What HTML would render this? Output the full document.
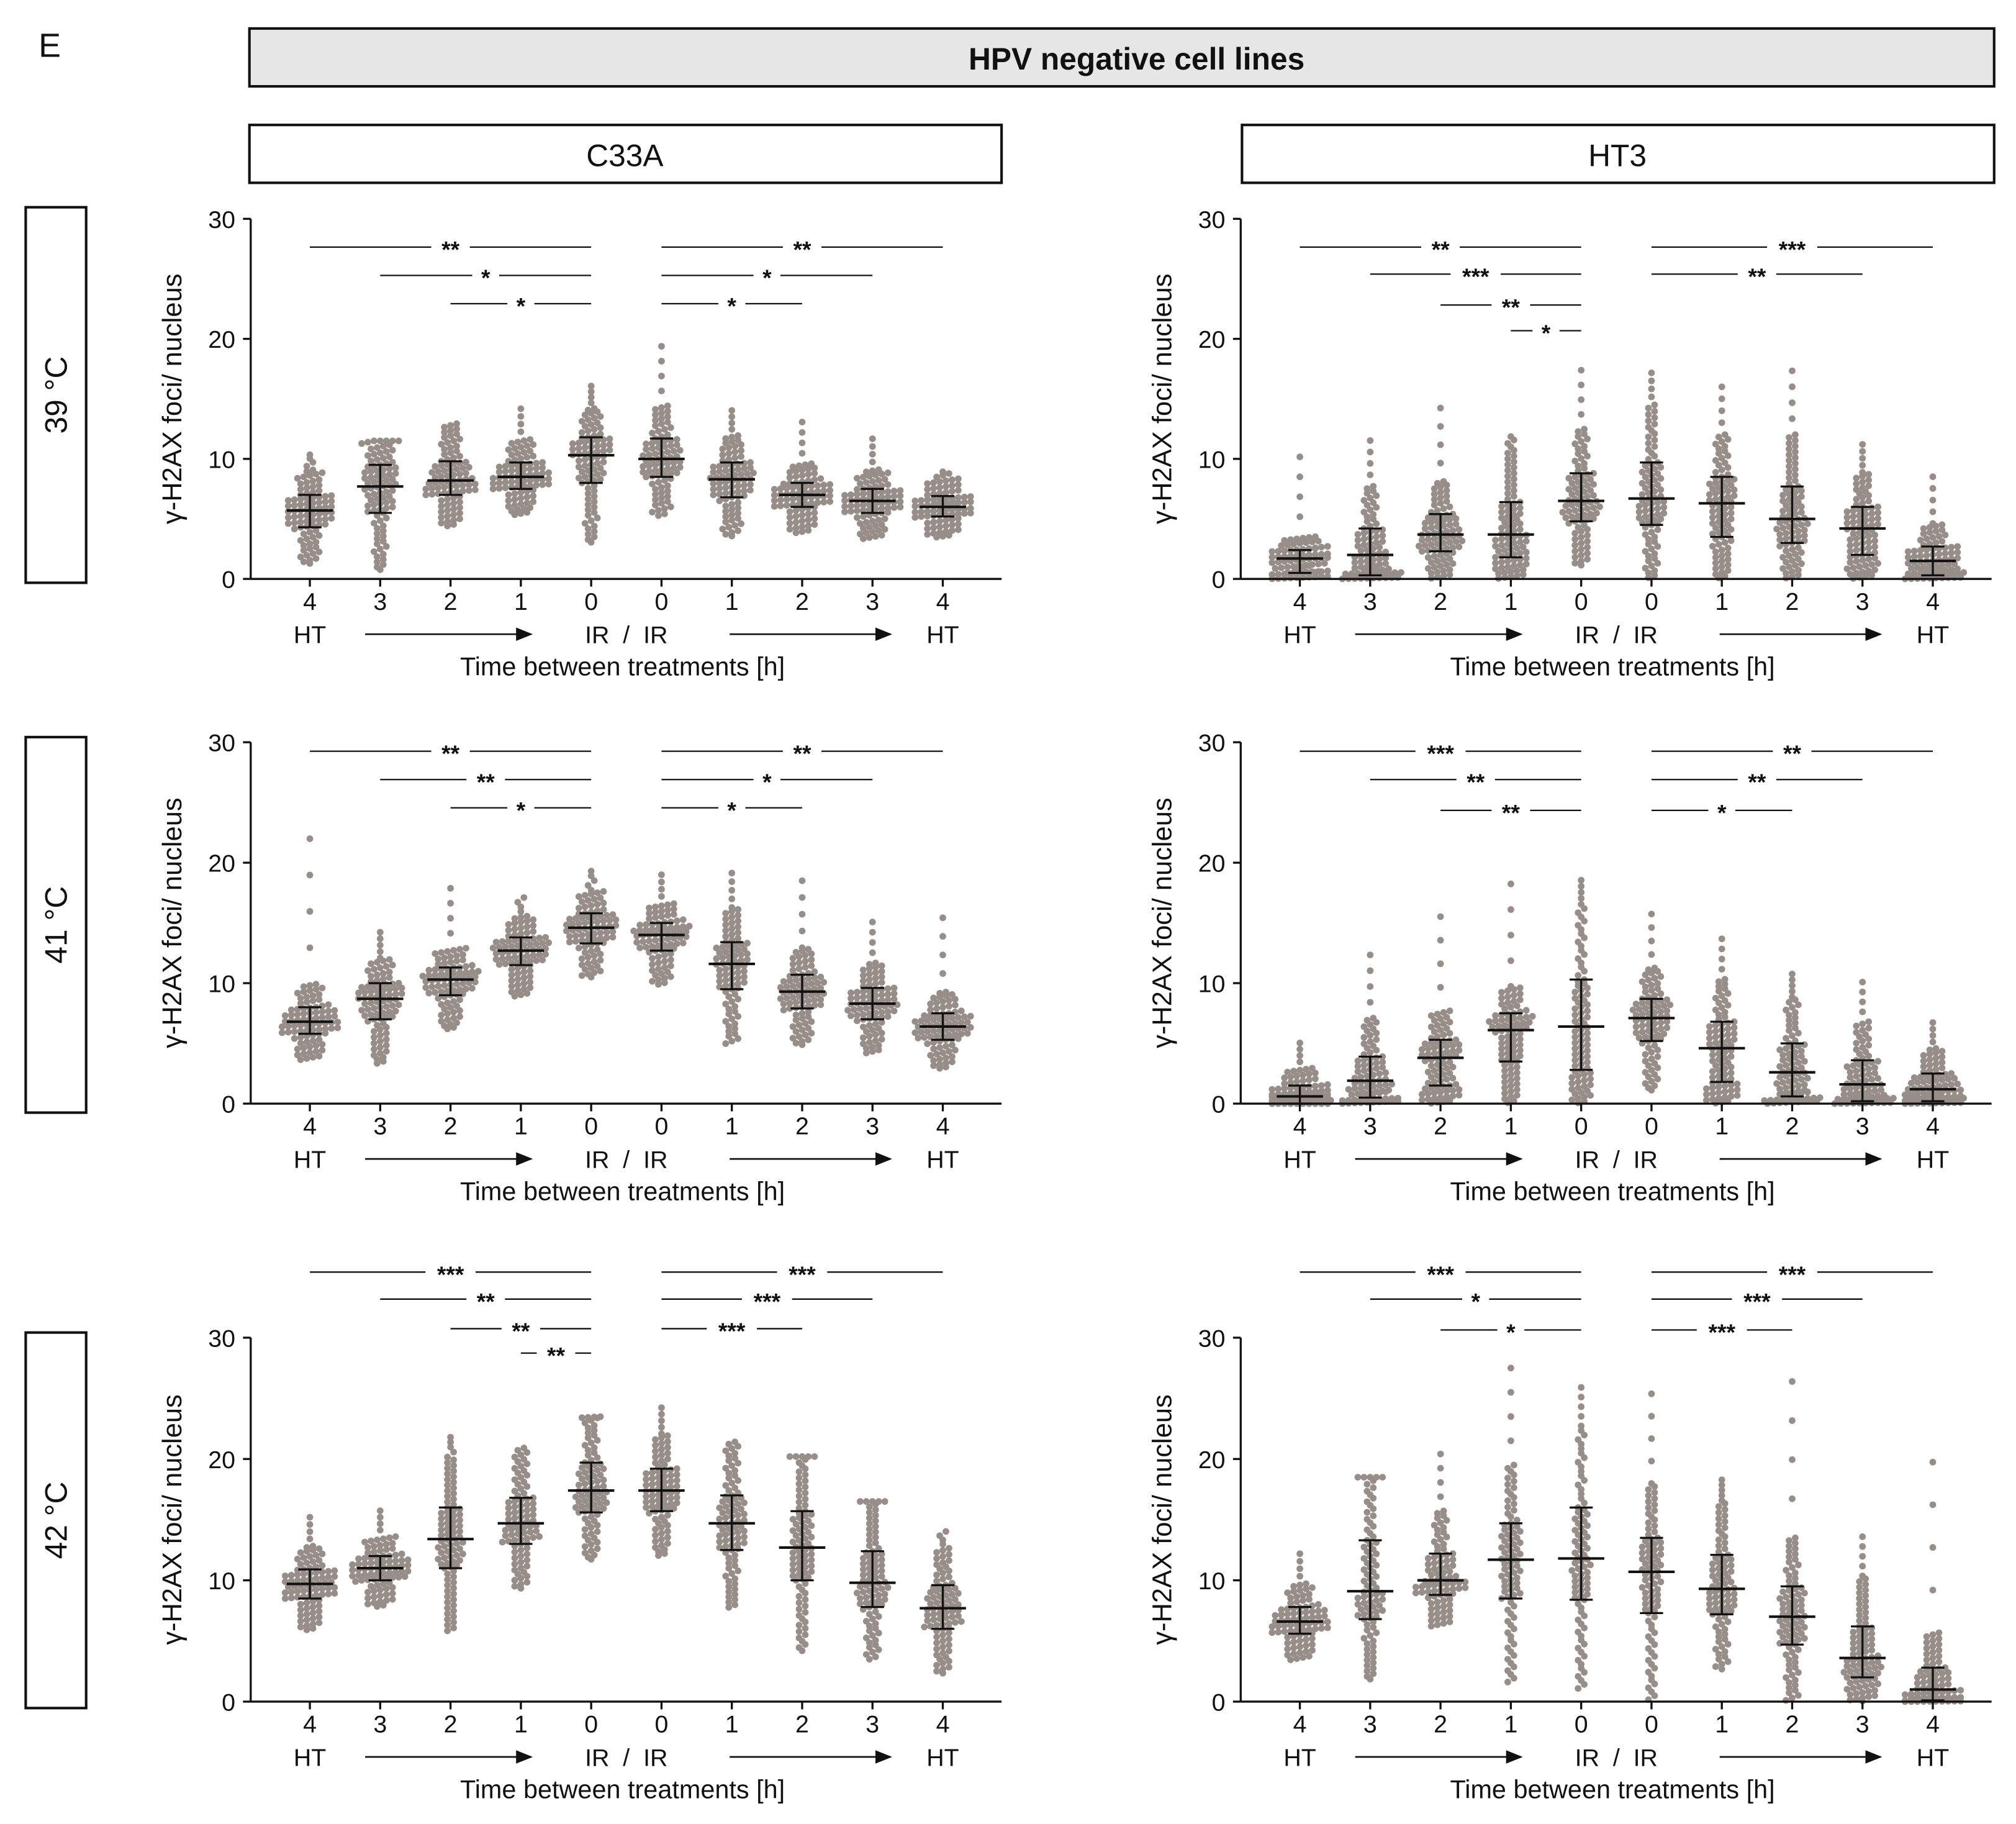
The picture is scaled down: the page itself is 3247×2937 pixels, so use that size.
<!DOCTYPE html>
<html><head><meta charset="utf-8"><style>
html,body{margin:0;padding:0;background:#fff}
svg{display:block}
text{font-family:"Liberation Sans",sans-serif;fill:#111}
</style></head><body>
<svg id="fig" width="3247" height="2937" viewBox="0 0 1568 1418" xmlns="http://www.w3.org/2000/svg">
<defs><marker id="ah" markerWidth="10" markerHeight="8" refX="9" refY="4" orient="auto"><path d="M0,0 L10,4 L0,8 z" fill="#111"/></marker></defs>
<text x="30" y="44" font-size="26">E</text>
<rect x="194" y="22" width="1357" height="45" fill="#e6e6e6" stroke="#111" stroke-width="2"/>
<text x="884" y="54" font-size="24" font-weight="bold" text-anchor="middle">HPV negative cell lines</text>
<rect x="194" y="97" width="585" height="45" fill="#fff" stroke="#111" stroke-width="2"/>
<text x="486" y="129" font-size="24" text-anchor="middle">C33A</text>
<rect x="966" y="97" width="585" height="45" fill="#fff" stroke="#111" stroke-width="2"/>
<text x="1258" y="129" font-size="24" text-anchor="middle">HT3</text>
<g id="rows"></g>
<g id="plots"></g>
</svg>
<script>
const NS="http://www.w3.org/2000/svg";
const svg=document.getElementById('plots');
const rowsG=document.getElementById('rows');
const categories=["4","3","2","1","0","0","1","2","3","4"];
const yTicks=[0,10,20,30];
const temps=["39 °C","41 °C","42 °C"];
const med_c33a_39=[5.7,7.7,8.2,8.5,10.3,10,8.3,7,6.5,6];
const lo_c33a_39=[4.3,5.5,7,7.5,8,8.5,6.8,6,5.5,5.2];
const hi_c33a_39=[7,9.5,9.8,9.7,11.8,11.7,9.7,8,7.5,6.9];
const max_c33a_39=[10.5,11.5,13,14.5,16.3,20,14.3,13.5,12,9];
const med_ht3_39=[1.7,2,3.7,3.7,6.5,6.7,6.3,5,4.2,1.5];
const lo_ht3_39=[0.5,0.3,2.3,1.8,4.8,4.5,3.5,3,2,0.3];
const hi_ht3_39=[2.4,4.2,5.4,6.4,8.8,9.7,8.5,7.7,6,2.7];
const max_ht3_39=[11,12,15,12,18,17.5,16.5,18,11.5,9];
const med_c33a_41=[6.8,8.7,10.3,12.7,14.6,14,11.6,9.3,8.3,6.4];
const lo_c33a_41=[5.8,7,9,11.5,13.3,12.7,9.5,7.9,7,5.3];
const hi_c33a_41=[8,10,11.3,13.8,15.8,15,13.4,10.7,9.6,7.5];
const max_c33a_41=[23.5,14.5,18.5,17.3,19.5,19.3,19.5,19.2,15.5,16.2];
const med_ht3_41=[0.6,1.9,3.8,6.1,6.4,7.1,4.6,2.6,1.6,1.2];
const lo_ht3_41=[0,0.5,1.5,3.5,2.8,5.2,1.8,0.6,0.2,0.2];
const hi_ht3_41=[1.5,3.9,5.3,7.5,10.3,8.7,6.8,5,3.6,2.5];
const max_ht3_41=[5.3,13,16.5,19.3,18.8,16.3,14.1,11,10.5,7];
const med_c33a_42=[9.7,11,13.4,14.7,17.4,17.4,14.7,12.7,9.8,7.7];
const lo_c33a_42=[8.5,10,11,13,15.6,15.7,12.5,10,7.8,6];
const hi_c33a_42=[10.9,12,16,16.8,19.7,19.2,17,15.7,12.4,9.6];
const max_c33a_42=[15.5,16,22,21,23.5,24.5,21.5,20.2,16.5,14.2];
const med_ht3_42=[6.6,9.1,10,11.7,11.8,10.7,9.3,7,3.6,1];
const lo_ht3_42=[5.6,6.8,8.8,8.5,8.4,7.3,7.2,4.7,2,0.1];
const hi_ht3_42=[7.8,13.3,12.2,14.7,16,13.5,12.1,9.5,6.2,2.8];
const max_ht3_42=[12.5,18.5,21,28.5,26.3,26.3,18.5,28,14,21.5];
const sig_c33a_39=[[0,4,"**",0],[1,4,"*",1],[2,4,"*",2],[5,9,"**",0],[5,8,"*",1],[5,7,"*",2]];
const sig_ht3_39=[[0,4,"**",0],[1,4,"***",1],[2,4,"**",2],[3,4,"*",3],[5,9,"***",0],[5,8,"**",1]];
const sig_c33a_41=[[0,4,"**",0],[1,4,"**",1],[2,4,"*",2],[5,9,"**",0],[5,8,"*",1],[5,7,"*",2]];
const sig_ht3_41=[[0,4,"***",0],[1,4,"**",1],[2,4,"**",2],[5,9,"**",0],[5,8,"**",1],[5,7,"*",2]];
const sig_c33a_42=[[0,4,"***",0],[1,4,"**",1],[2,4,"**",2],[3,4,"**",3],[5,9,"***",0],[5,8,"***",1],[5,7,"***",2]];
const sig_ht3_42=[[0,4,"***",0],[1,4,"*",1],[2,4,"*",2],[5,9,"***",0],[5,8,"***",1],[5,7,"***",2]];

const panels=[
 {name:"c33a-39",x0:195,y0:450,y30:170,sigY:[192,214,236],med:med_c33a_39,lo:lo_c33a_39,hi:hi_c33a_39,mx:max_c33a_39,sig:sig_c33a_39},
 {name:"ht3-39",x0:965,y0:450,y30:170,sigY:[192,213,237,257],med:med_ht3_39,lo:lo_ht3_39,hi:hi_ht3_39,mx:max_ht3_39,sig:sig_ht3_39},
 {name:"c33a-41",x0:195,y0:858,y30:577,sigY:[584,606,628],med:med_c33a_41,lo:lo_c33a_41,hi:hi_c33a_41,mx:max_c33a_41,sig:sig_c33a_41},
 {name:"ht3-41",x0:965,y0:858,y30:577,sigY:[584,606,630],med:med_ht3_41,lo:lo_ht3_41,hi:hi_ht3_41,mx:max_ht3_41,sig:sig_ht3_41},
 {name:"c33a-42",x0:195,y0:1323,y30:1040,sigY:[989,1010,1033,1052],med:med_c33a_42,lo:lo_c33a_42,hi:hi_c33a_42,mx:max_c33a_42,sig:sig_c33a_42},
 {name:"ht3-42",x0:965,y0:1323,y30:1040,sigY:[989,1010,1034],med:med_ht3_42,lo:lo_ht3_42,hi:hi_ht3_42,mx:max_ht3_42,sig:sig_ht3_42}
];
function el(tag,attrs,parent,txt){const e=document.createElementNS(NS,tag);for(const k in attrs)e.setAttribute(k,attrs[k]);if(txt!==undefined)e.textContent=txt;(parent||svg).appendChild(e);return e;}

[[161,453],[573,865],[1036,1328]].forEach((r,i)=>{
 const b=el('rect',{x:20,y:r[0],width:47,height:r[1]-r[0],fill:'#fff',stroke:'#111','stroke-width':2},rowsG);
 
 
 const cy=(r[0]+r[1])/2;
 const t=el('text',{x:0,y:0,'font-size':24,'text-anchor':'middle',transform:`translate(52,${cy}) rotate(-90)`},rowsG,temps[i]);
 
 
});

panels.forEach(p=>{
 const g=el('g',{});
 
 
 const xEnd=p.x0+584;
 const yS=v=>p.y0-(p.y0-p.y30)*v/30;
 const step=54.7;
 const xS=i=>p.x0+46+i*step;
 const dots=el('g',{fill:'#978e89'},g);
 
 
 for(let i=0;i<10;i++){
  const md=p.med[i],lo=p.lo[i],hi=p.hi[i],mx=p.mx[i];
  const mn=Math.max(0,lo-(md-lo)*2.2);
  const top=Math.min(mx,hi+(hi-md)*1.6);
  const n=90,vals=[];
  for(let k=0;k<n;k++){const q=(k+0.5)/n;let v;
   if(q<0.25)v=mn+(lo-mn)*(q/0.25);else if(q<0.5)v=lo+(md-lo)*((q-0.25)/0.25);
   else if(q<0.75)v=md+(hi-md)*((q-0.5)/0.25);else if(q<0.95)v=hi+(top-hi)*((q-0.75)/0.2);
   else v=top+(mx-top)*((q-0.95)/0.05);vals.push(Math.max(0,v));}
  const bins={};vals.forEach(v=>{const b=Math.round(yS(v)/4.4);(bins[b]=bins[b]||[]).push(v);});
  const perRow=10;
  for(const b in bins){const arr=bins[b];const m=arr.length;
   arr.forEach((v,j)=>{const row=Math.floor(j/perRow);const inRow=Math.min(perRow,m-row*perRow);const jj=j%perRow;
    const off=(jj-(inRow-1)/2)*4.8+(row%2?2.4:0);
    el('circle',{cx:xS(i)+off,cy:Math.min(p.y0,yS(v))-row*2.6,r:2.6},dots);});}
 }
 for(let i=0;i<10;i++){
  const eb=el('g',{stroke:'#111','stroke-width':1.6},g);
  
  
  const x=xS(i);
  el('line',{x1:x,x2:x,y1:yS(p.lo[i]),y2:yS(p.hi[i])},eb);
  el('line',{x1:x-9,x2:x+9,y1:yS(p.lo[i]),y2:yS(p.lo[i])},eb);
  el('line',{x1:x-9,x2:x+9,y1:yS(p.hi[i]),y2:yS(p.hi[i])},eb);
  el('line',{x1:x-18,x2:x+18,y1:yS(p.med[i]),y2:yS(p.med[i]),'stroke-width':2},eb);
 }
 const ax=el('g',{stroke:'#111','stroke-width':1.6},g);
 
 
 el('line',{x1:p.x0,x2:p.x0,y1:p.y30,y2:p.y0},ax);
 el('line',{x1:p.x0,x2:xEnd,y1:p.y0,y2:p.y0},ax);
 yTicks.forEach(t=>{el('line',{x1:p.x0-6,x2:p.x0,y1:yS(t),y2:yS(t)},ax);
  const tl=el('text',{x:p.x0-12,y:yS(t)+7,'font-size':19,'text-anchor':'end',stroke:'none'},g,String(t));
  
  });
 categories.forEach((c,i)=>{el('line',{x1:xS(i),x2:xS(i),y1:p.y0,y2:p.y0+6},ax);
  const tl=el('text',{x:xS(i),y:p.y0+24,'font-size':19,'text-anchor':'middle'},g,c);
  
  });
 const yt=el('text',{x:0,y:0,'font-size':21,'text-anchor':'middle',transform:`translate(${p.x0-54},${(p.y0+p.y30)/2}) rotate(-90)`},g,"γ-H2AX foci/ nucleus");
 
 
 const ty=p.y0+50;
 const h1=el('text',{x:xS(0),y:ty,'font-size':19,'text-anchor':'middle'},g,"HT");
 
 
 const ir=el('text',{x:(xS(4)+xS(5))/2,y:ty,'font-size':19,'text-anchor':'middle','xml:space':'preserve'},g,"IR  /  IR");
 
 
 ir.style.whiteSpace='pre';
 const h2=el('text',{x:xS(9),y:ty,'font-size':19,'text-anchor':'middle'},g,"HT");
 
 
 [[xS(0)+43,xS(3)+8],[xS(5)+53,xS(8)+14]].forEach(a=>{
  const ar=el('line',{x1:a[0],x2:a[1],y1:ty-7,y2:ty-7,stroke:'#111','stroke-width':1.3,'marker-end':'url(#ah)'},g);
  
  });
 const xt=el('text',{x:(xS(4)+xS(5))/2-3,y:p.y0+75,'font-size':20,'text-anchor':'middle'},g,"Time between treatments [h]");
 
 
 p.sig.forEach(s=>{
  const sg=el('g',{},g);
  
  
  const a=xS(s[0]),b=xS(s[1]),y=p.sigY[s[3]],c=(a+b)/2,hw=s[2].length*4.5+6;
  el('line',{x1:a,x2:c-hw,y1:y,y2:y,stroke:'#111','stroke-width':1.1},sg);
  el('line',{x1:c+hw,x2:b,y1:y,y2:y,stroke:'#111','stroke-width':1.1},sg);
  el('text',{x:c,y:y+8,'font-size':18,'font-weight':'bold','text-anchor':'middle'},sg,s[2]);
 });
});
</script>
</body></html>
